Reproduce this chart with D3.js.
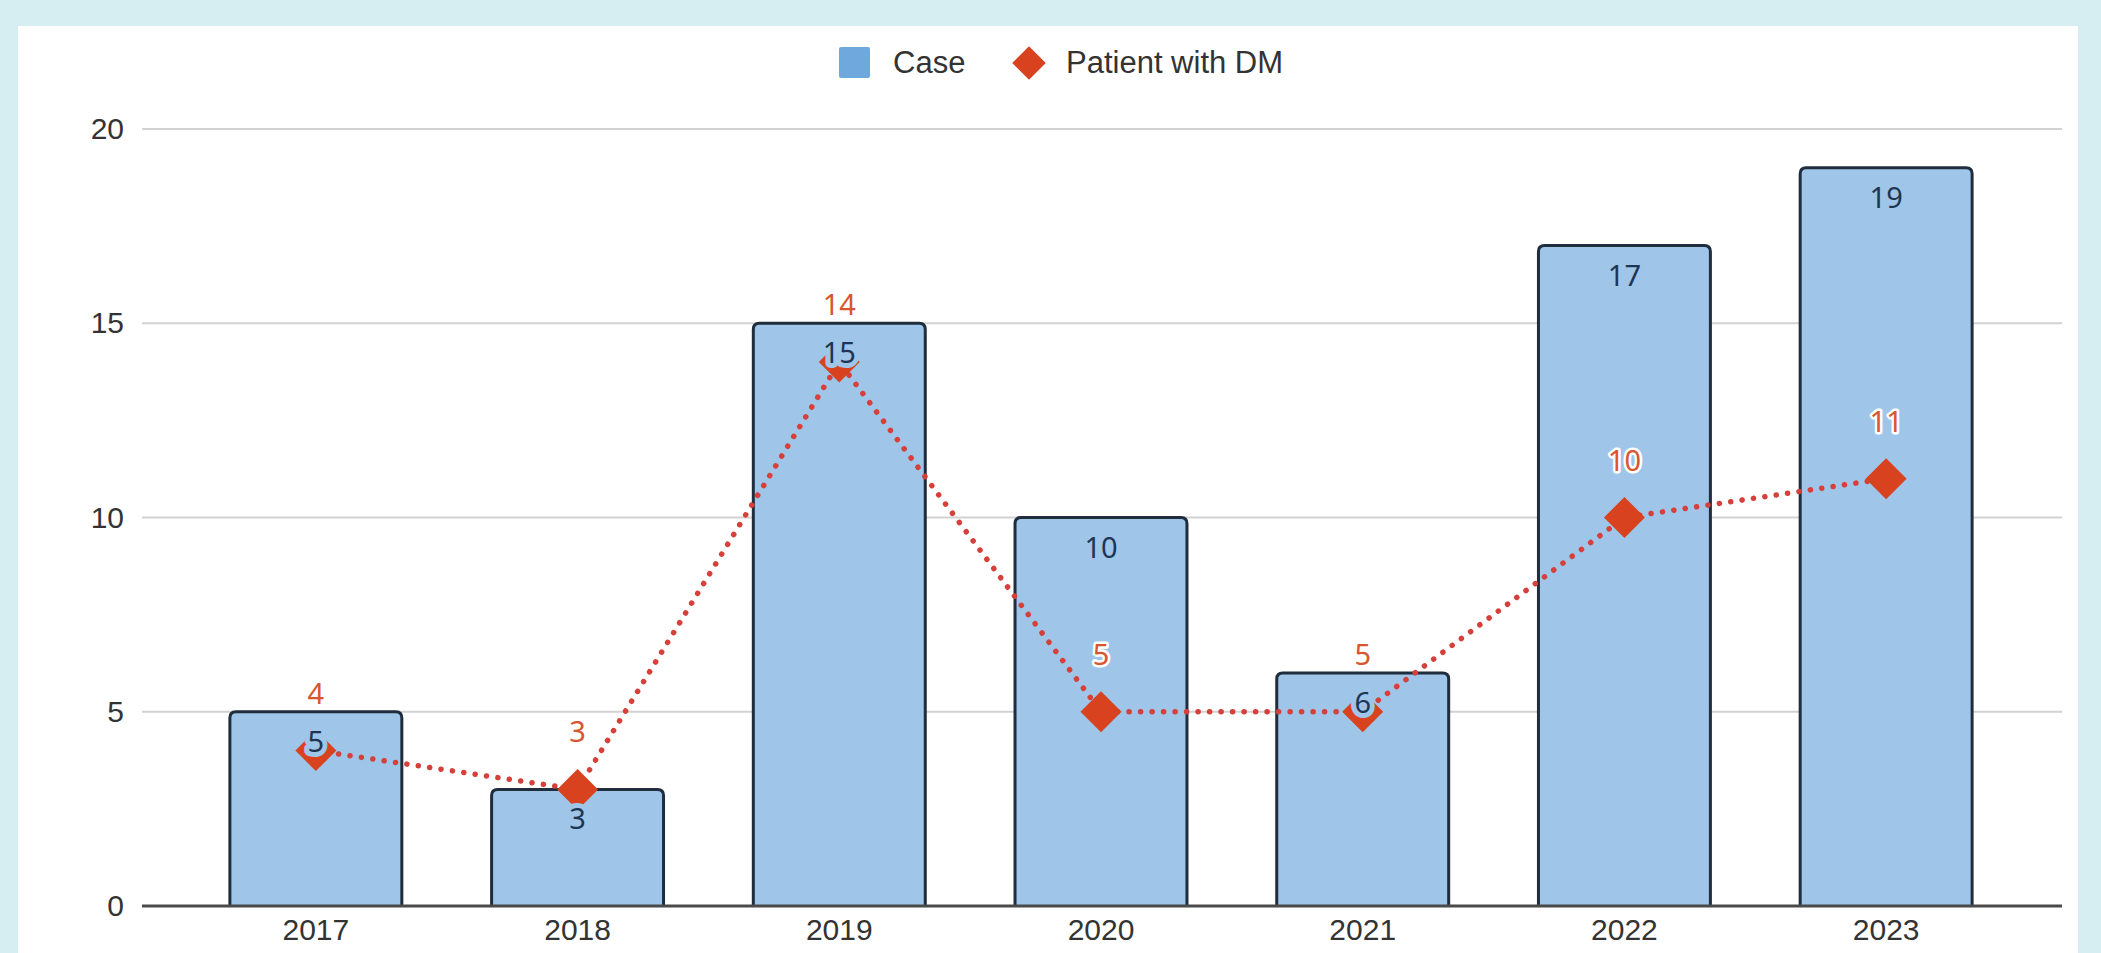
<!DOCTYPE html>
<html>
<head>
<meta charset="utf-8">
<script src="https://cdn.jsdelivr.net/npm/d3@7"></script>
<style>
  html, body { margin: 0; padding: 0; background: #d6eef1; }
  svg { display: block; }
</style>
</head>
<body>
<svg id="chart" width="2101" height="953"></svg>
<script>
// Yearly counts
const years = ["2017", "2018", "2019", "2020", "2021", "2022", "2023"];
const caseCounts = [5, 3, 15, 10, 6, 17, 19];
const dmCounts = [4, 3, 14, 5, 5, 10, 11];
const yTicks = [0, 5, 10, 15, 20];
const seriesNames = ["Case", "Patient with DM"];

const W = 2101, H = 953;
const barFill = "#9fc5e8";
const barStroke = "#1f2d3d";
const lineColor = "#d5403a";
const markerColor = "#d9421f";
const dmLabelColor = "#d8552f";
const caseLabelColor = "#1d3654";
const axisText = "#333333";

const svg = d3.select("#chart");

// card panel
svg.append("rect").attr("x", 18).attr("y", 26).attr("width", 2060).attr("height", H - 26)
  .attr("fill", "#ffffff");

const gridLeft = 142, gridRight = 2062;
const x = d3.scaleBand().domain(years).range([185, 2017])
  .paddingInner(0.343).paddingOuter(0.1715);
const y = d3.scaleLinear().domain([0, 20]).range([906, 129]);

// horizontal gridlines
svg.append("g").selectAll("line").data(yTicks.filter(t => t > 0)).join("line")
  .attr("x1", gridLeft).attr("x2", gridRight)
  .attr("y1", d => y(d)).attr("y2", d => y(d))
  .attr("stroke", "#d2d2d2").attr("stroke-width", 2);

// y-axis labels
const yAxis = d3.axisLeft(y).tickValues(yTicks).tickSize(0).tickPadding(0);
const yg = svg.append("g").attr("transform", `translate(${gridLeft - 18},0)`).call(yAxis);
yg.select(".domain").remove();
yg.selectAll("text").attr("font-family", "'Liberation Sans', Arial, sans-serif")
  .attr("font-size", 30).attr("fill", axisText);

// bars with rounded top corners
const r = 6;
function barPath(d, i) {
  const x0 = x(years[i]), x1 = x0 + x.bandwidth();
  const yt = y(d), yb = y(0);
  return `M${x0},${yb} L${x0},${yt + r} Q${x0},${yt} ${x0 + r},${yt} L${x1 - r},${yt} Q${x1},${yt} ${x1},${yt + r} L${x1},${yb}`;
}
svg.append("g").selectAll("path").data(caseCounts).join("path")
  .attr("d", barPath)
  .attr("fill", barFill).attr("stroke", barStroke).attr("stroke-width", 3);

// baseline
svg.append("line").attr("x1", gridLeft).attr("x2", gridRight)
  .attr("y1", y(0)).attr("y2", y(0)).attr("stroke", "#4a4a4a").attr("stroke-width", 3);

// x-axis labels
const xAxis = d3.axisBottom(x).tickSize(0).tickPadding(0);
const xg = svg.append("g").attr("transform", `translate(0,${y(0) + 13})`).call(xAxis);
xg.select(".domain").remove();
xg.selectAll("text").attr("font-family", "'Liberation Sans', Arial, sans-serif")
  .attr("font-size", 30).attr("fill", axisText);

// dotted DM line
const cx = i => x(years[i]) + x.bandwidth() / 2;
const line = d3.line().x((d, i) => cx(i)).y(d => y(d));
svg.append("path").datum(dmCounts).attr("d", line)
  .attr("fill", "none").attr("stroke", lineColor).attr("stroke-width", 5.5)
  .attr("stroke-linecap", "round").attr("stroke-dasharray", "0.1 11.4");

// diamond markers
const diamond = d3.symbol().type(d3.symbolSquare).size(840);
svg.append("g").selectAll("path").data(dmCounts).join("path")
  .attr("d", diamond)
  .attr("transform", (d, i) => `translate(${cx(i)},${y(d)}) rotate(45)`)
  .attr("fill", markerColor);

// DM value labels
svg.append("g").selectAll("text").data(dmCounts).join("text")
  .attr("x", (d, i) => cx(i)).attr("y", d => y(d) - 47)
  .attr("text-anchor", "middle")
  .attr("font-family", "'Noto Sans', 'Open Sans', sans-serif").attr("font-size", 29)
  .attr("fill", dmLabelColor).attr("stroke", "#ffffff").attr("stroke-width", 5)
  .attr("stroke-linejoin", "round").attr("paint-order", "stroke")
  .text(d => d);

// Case value labels inside bar tops
svg.append("g").selectAll("text").data(caseCounts).join("text")
  .attr("x", (d, i) => cx(i)).attr("y", d => y(d) + 40)
  .attr("text-anchor", "middle")
  .attr("font-family", "'Noto Sans', 'Open Sans', sans-serif").attr("font-size", 29)
  .attr("fill", caseLabelColor).attr("stroke", barFill).attr("stroke-width", 10)
  .attr("stroke-linejoin", "round").attr("paint-order", "stroke")
  .text(d => d);

// legend
const lg = svg.append("g").attr("font-family", "'Liberation Sans', Arial, sans-serif")
  .attr("font-size", 31).attr("fill", axisText);
lg.append("rect").attr("x", 839).attr("y", 47).attr("width", 31).attr("height", 31)
  .attr("rx", 2).attr("fill", "#6fa8dc");
lg.append("text").attr("x", 893).attr("y", 73).text(seriesNames[0]);
lg.append("path").attr("d", d3.symbol().type(d3.symbolSquare).size(560))
  .attr("transform", "translate(1029,63) rotate(45)").attr("fill", markerColor);
lg.append("text").attr("x", 1066).attr("y", 73).text(seriesNames[1]);
</script>
</body>
</html>
